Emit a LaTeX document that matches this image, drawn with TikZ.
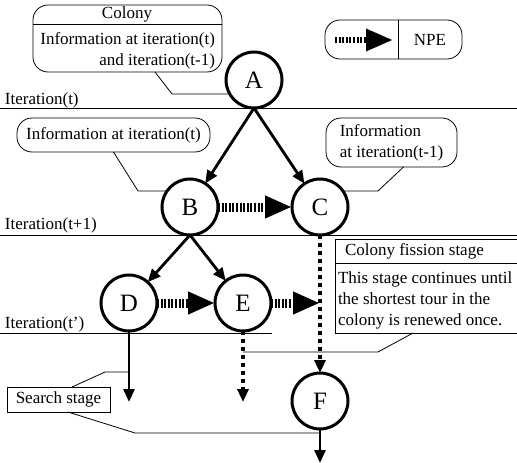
\documentclass[tikz,border=0pt]{standalone}
\usepackage{fontspec}
\setmainfont{Liberation Serif}
\usetikzlibrary{arrows.meta, positioning, calc}

\begin{document}
\begin{tikzpicture}[x=1pt, y=-1pt,
  every node/.style={font=\fontsize{17}{21}\selectfont, inner sep=0pt, outer sep=0pt},
  stage/.style={draw, circle, line width=3pt, minimum size=56pt, font=\fontsize{25}{25}\selectfont},
  memo/.style={draw, rounded corners=15pt, line width=0.8pt},
  note/.style={draw, line width=0.8pt},
  leader/.style={line width=0.8pt},
  level/.style={line width=1pt},
  flow/.style={-{Triangle[length=13pt, width=11pt]}, line width=2.8pt},
  lag/.style={-{Triangle[length=13pt, width=11pt]}, line width=4pt, dash pattern=on 4pt off 4pt},
  npe/.style={-{Triangle[length=27pt, width=21pt]}, line width=9pt, dash pattern=on 2pt off 1.6pt}]

  \useasboundingbox (0,0) rectangle (517,463);

  % Colony box
  \node (colony) [memo, minimum width=189pt, minimum height=67pt] at (127.5,38.5) {};
  \draw[leader] (colony.west |- 0,24) -- (colony.east |- 0,24);
  \node (colonytitle) at (127,14) {Colony};
  \node (colonyinfo) [anchor=east, align=right] at (215,51) {Information at iteration(t)\\and iteration(t-1)};

  % Legend
  \node (legend) [memo, minimum width=137pt, minimum height=39pt] at (393.5,39.5) {};
  \draw[leader] (legend.north -| 398,0) -- (legend.south -| 398,0);
  \coordinate (legendtail) at (335,40);
  \coordinate (legendhead) at (393,40);
  \draw[npe, line width=6pt] (legendtail) -- (legendhead);
  \node (legendtext) at (430,40) {NPE};

  % Iteration levels
  \node (itert) [anchor=base west] at (5,104) {Iteration(t)};
  \draw[level] (0,108) -- (517,108);
  \node (itertp) [anchor=base west] at (5,229) {Iteration(t+1)};
  \draw[level] (0,235) -- (517,235);
  \node (itertq) [anchor=base west] at (5,328) {Iteration(t')};
  \draw[level] (0,333) -- (272,333);

  % Colonies
  \node (A) [stage] at (254,80) {A};
  \node (B) [stage] at (190,207) {B};
  \node (C) [stage] at (320,207) {C};
  \node (D) [stage] at (129,303) {D};
  \node (E) [stage] at (243,303) {E};
  \node (F) [stage] at (320,401) {F};

  % Information boxes
  \node (infot) [memo, minimum width=193pt, minimum height=34pt] at (113.5,135) {Information at iteration(t)};
  \node (infotm) [memo, minimum width=131pt, minimum height=49pt, align=left] at (391.5,142.5) {Information\\at iteration(t-1)};

  % Stage boxes
  \node (fission) [note, minimum width=190pt, minimum height=94pt, anchor=north west] at (335,239) {};
  \draw[leader] (fission.west |- 0,263) -- (fission.east |- 0,263);
  \node (fissiontitle) [anchor=west] at (345,251) {Colony fission stage};
  \node (fissioninfo) [anchor=north west, align=left] at (338,272) {This stage continues until\\the shortest tour in the\\colony is renewed once.};
  \node (search) [note, minimum width=103pt, minimum height=25pt] at (58.5,399.5) {Search stage};

  % Leaders
  \draw[leader] ([xshift=27.5pt]colony.south) -- (A.210 -| 172,0) -- (A.210);
  \draw[leader] (infot.south) -- (B.145 -| 138,0) -- (B.145);
  \draw[leader] ([xshift=12pt]infotm.south) -- (C.35 -| 378,0) -- (C.35);
  \coordinate (fissionbend) at (378,352);
  \draw[leader] ([xshift=-17pt]fission.south) -- (fissionbend) -- (fissionbend -| E);
  \draw[leader] ($([xshift=-17pt]fission.south)!0.5!(fissionbend)$) -- ($([xshift=-17pt]fission.south)!0.5!(fissionbend)$ -| F);
  \draw[leader] ([xshift=13.5pt]search.north) -- (105,372) -- (D |- 0,372);
  \draw[leader] ([xshift=9.5pt]search.south) -- (135,433) -- (F |- 0,433);

  % Arrows
  \draw[flow] (A.south) -- (B);
  \draw[flow] (A.south) -- (C);
  \draw[flow] (B.south) -- (D);
  \draw[flow] (B.south) -- (E);
  \draw[npe] (B) -- (C);
  \draw[npe] (D) -- (E);
  \draw[npe] (E) -- (E -| C);
  \draw[lag] (C.south) -- (F.north);
  \coordinate (dend) at (129,402);
  \coordinate (eend) at (243,402);
  \coordinate (fend) at (320,463);
  \draw[flow] (D.south) -- (dend);
  \draw[lag] (E.south) -- (eend);
  \draw[flow] (F.south) -- (fend);

\end{tikzpicture}
\end{document}
